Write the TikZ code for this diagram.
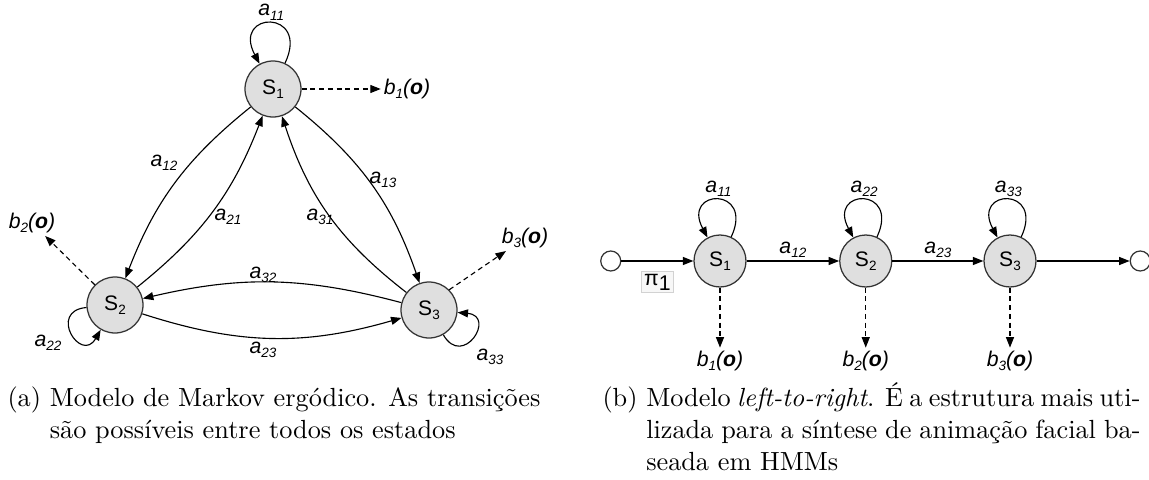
\documentclass[tikz,border=0pt]{standalone}
\usepackage{fontspec}
\newfontfamily\diafont{Liberation Sans}
\usetikzlibrary{arrows.meta, positioning}

% lowered index for state names and labels
\newcommand{\idx}[1]{\raisebox{-1.8pt}{\fontsize{5.4}{6}\selectfont #1}}
\newcommand{\trans}[1]{\textit{a\idx{#1}}}
\newcommand{\emis}[1]{\textit{b\idx{#1}(\textbf{o})}}
\newcommand{\stname}[1]{S\idx{#1}}
% caption with hanging label
\newcommand{\subcap}[3]{\parbox[t]{#2}{\setbox0\hbox{#1\ }\hangindent=\wd0\hangafter=1
    \makebox[\wd0][l]{#1}#3}}

\begin{document}
\begin{tikzpicture}[
    x=0.4pt, y=-0.4pt,
    state/.style={circle, draw=black!80, fill=gray!25, line width=0.5pt, minimum size=22.4pt, inner sep=0pt, font=\diafont\fontsize{8.4}{9}\selectfont},
    smallstate/.style={state, minimum size=20.8pt},
    terminal/.style={circle, draw=black!80, line width=0.5pt, minimum size=8pt, inner sep=0pt},
    lbl/.style={font=\diafont\fontsize{8.5}{10}\selectfont, inner sep=1pt},
    pibox/.style={draw=gray!35, fill=gray!6, inner sep=1pt, font=\diafont\fontsize{8.5}{10}\selectfont},
    arrow/.style={-{Triangle[length=4.2pt, width=3.2pt]}, line width=0.45pt},
    emit/.style={arrow, dash pattern=on 2pt off 1.5pt},
    caption/.style={font=\fontsize{10.5}{12.8}\selectfont, anchor=base west, inner sep=0pt},
]
    \useasboundingbox (0,0) rectangle (1149,480);

    % (a) ergodic model
    \node[state] (s1) at (273,89) {\stname{1}};
    \node[state] (s2) at (115,305) {\stname{2}};
    \node[state] (s3) at (429,310) {\stname{3}};

    \node[lbl] (b1) at (407,89) {\emis{1}};
    \node[lbl] (b2) at (32,223) {\emis{2}};
    \node[lbl] (b3) at (525,238) {\emis{3}};

    \draw[arrow] (s1) to[out=65, in=118, looseness=6] node[lbl, above] {\trans{11}} (s1);
    \draw[arrow] (s2) to[out=185, in=240, looseness=3.8] (s2);
    \draw[arrow] (s3) to[out=300, in=355, looseness=3.8] (s3);

    \draw[arrow] (s1) to[bend right=15] (s2);
    \draw[arrow] (s2) to[bend right=15] (s1);
    \draw[arrow] (s1) to[bend left=16] (s3);
    \draw[arrow] (s3) to[bend left=17] (s1);
    \draw[arrow] (s3) to[bend right=14] (s2);
    \draw[arrow] (s2) to[bend right=17] (s3);

    \draw[emit] (s1) -- (b1);
    \draw[emit] (s2.135) -- (b2);
    \draw[emit] (s3.45) -- (b3);

    \node[lbl] (l12) at (164,163) {\trans{12}};
    \node[lbl] (l13) at (383,180) {\trans{13}};
    \node[lbl] (l21) at (228,217) {\trans{21}};
    \node[lbl] (l31) at (320,217) {\trans{31}};
    \node[lbl] (l32) at (263,275) {\trans{32}};
    \node[lbl] (l23) at (263,350) {\trans{23}};
    \node[lbl] (l22) at (48,343) {\trans{22}};
    \node[lbl] (l33) at (490,357) {\trans{33}};

    % (b) left-to-right model
    \node[smallstate] (r1) at (720,261) {\stname{1}};
    \node[smallstate, right=37pt of r1] (r2) {\stname{2}};
    \node[smallstate, right=36.4pt of r2] (r3) {\stname{3}};
    \node[terminal, left=28.8pt of r1] (start) {};
    \node[terminal, right=37.2pt of r3] (stop) {};

    \node[lbl, below=24pt of r1] (c1) {\emis{1}};
    \node[lbl, below=24pt of r2] (c2) {\emis{2}};
    \node[lbl, below=24pt of r3] (c3) {\emis{3}};

    \draw[arrow] (start) -- node[pibox, below=4pt] {π\raisebox{-2pt}{1}} (r1);
    \draw[arrow] (r1) -- node[lbl, above] {\trans{12}} (r2);
    \draw[arrow] (r2) -- node[lbl, above] {\trans{23}} (r3);
    \draw[arrow] (r3) -- (stop);

    \draw[arrow] (r1) to[out=65, in=118, looseness=6] node[lbl, above] {\trans{11}} (r1);
    \draw[arrow] (r2) to[out=65, in=118, looseness=6] node[lbl, above] {\trans{22}} (r2);
    \draw[arrow] (r3) to[out=65, in=118, looseness=6] node[lbl, above] {\trans{33}} (r3);

    \draw[emit] (r1) -- (c1);
    \draw[emit] (r2) -- (c2);
    \draw[emit] (r3) -- (c3);

    % captions
    \node[caption] (capa) at (7,406)
        {\subcap{(a)}{216pt}{Modelo de Markov ergódico. As transições\\
         são possíveis entre todos os estados}};
    \node[caption] (capb) at (602,406)
        {\subcap{(b)}{215.2pt}{Modelo \textit{left-to-right}. É a estrutura mais uti-\linebreak
         lizada para a síntese de animação facial ba-\linebreak
         seada em HMMs}};
\end{tikzpicture}
\end{document}
